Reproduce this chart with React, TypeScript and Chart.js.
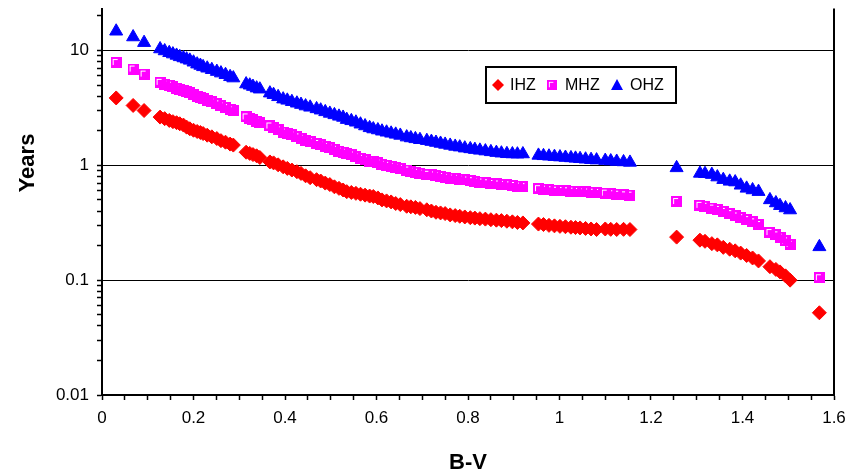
import { useEffect, useRef } from 'react';
import { Chart, registerables } from 'chart.js';

Chart.register(...registerables);

// B-V colour index of each star (shared by the three series)
const bv = [
  0.031, 0.068, 0.092, 0.127, 0.137, 0.147, 0.155, 0.163, 0.170, 0.178,
  0.185, 0.192, 0.200, 0.208, 0.215, 0.221, 0.230, 0.240, 0.251, 0.260,
  0.270, 0.280, 0.287, 0.315, 0.323, 0.330, 0.338, 0.345, 0.367, 0.375,
  0.385, 0.396, 0.405, 0.415, 0.426, 0.435, 0.445, 0.455, 0.469, 0.478,
  0.488, 0.498, 0.508, 0.518, 0.527, 0.535, 0.545, 0.555, 0.565, 0.575,
  0.585, 0.593, 0.603, 0.612, 0.622, 0.632, 0.642, 0.652, 0.666, 0.675,
  0.685, 0.695, 0.710, 0.720, 0.730, 0.740, 0.750, 0.761, 0.772, 0.782,
  0.793, 0.805, 0.815, 0.826, 0.838, 0.850, 0.862, 0.873, 0.885, 0.897,
  0.908, 0.920, 0.954, 0.965, 0.977, 0.989, 1.001, 1.013, 1.025, 1.035,
  1.045, 1.057, 1.069, 1.081, 1.100, 1.112, 1.125, 1.140, 1.154, 1.256,
  1.307, 1.318, 1.333, 1.345, 1.358, 1.372, 1.384, 1.396, 1.409, 1.422,
  1.435, 1.460, 1.473, 1.482, 1.494, 1.504, 1.568,
];

const ihz = [
  3.86, 3.32, 3.00, 2.63, 2.55, 2.46, 2.40, 2.35, 2.30, 2.24,
  2.15, 2.08, 2.02, 1.97, 1.93, 1.89, 1.83, 1.77, 1.71, 1.64,
  1.59, 1.53, 1.50, 1.30, 1.27, 1.24, 1.21, 1.17, 1.07, 1.05,
  1.01, 0.97, 0.94, 0.91, 0.88, 0.85, 0.81, 0.78, 0.75, 0.73,
  0.70, 0.68, 0.65, 0.63, 0.61, 0.59, 0.58, 0.57, 0.56, 0.55,
  0.54, 0.535, 0.52, 0.50, 0.49, 0.48, 0.465, 0.455, 0.44, 0.435,
  0.43, 0.42, 0.41, 0.40, 0.39, 0.385, 0.38, 0.37, 0.365, 0.36,
  0.355, 0.35, 0.347, 0.343, 0.34, 0.336, 0.333, 0.33, 0.326, 0.322,
  0.318, 0.315, 0.308, 0.305, 0.30, 0.297, 0.294, 0.292, 0.289, 0.287,
  0.285, 0.282, 0.279, 0.276, 0.279, 0.277, 0.276, 0.277, 0.276, 0.237,
  0.223, 0.218, 0.208, 0.203, 0.193, 0.186, 0.180, 0.172, 0.164, 0.156,
  0.147, 0.131, 0.124, 0.118, 0.109, 0.100, 0.052,
];

const mhz = [
  7.85, 6.89, 6.23, 5.28, 5.10, 4.98, 4.85, 4.69, 4.58, 4.48,
  4.38, 4.27, 4.12, 4.00, 3.90, 3.79, 3.68, 3.56, 3.43, 3.30,
  3.18, 3.05, 2.98, 2.64, 2.57, 2.50, 2.42, 2.36, 2.20, 2.13,
  2.04, 1.95, 1.90, 1.84, 1.77, 1.72, 1.66, 1.61, 1.55, 1.51,
  1.46, 1.42, 1.38, 1.33, 1.30, 1.27, 1.23, 1.19, 1.15, 1.12,
  1.09, 1.07, 1.05, 1.02, 1.00, 0.98, 0.96, 0.94, 0.91, 0.89,
  0.87, 0.855, 0.835, 0.825, 0.815, 0.80, 0.785, 0.775, 0.77, 0.76,
  0.745, 0.735, 0.725, 0.715, 0.705, 0.695, 0.688, 0.682, 0.676, 0.668,
  0.66, 0.653, 0.626, 0.62, 0.613, 0.607, 0.603, 0.60, 0.596, 0.592,
  0.589, 0.586, 0.583, 0.58, 0.572, 0.566, 0.56, 0.553, 0.55, 0.484,
  0.448, 0.44, 0.424, 0.413, 0.397, 0.38, 0.362, 0.35, 0.337, 0.322,
  0.305, 0.26, 0.248, 0.237, 0.22, 0.205, 0.105,
];

const ohz = [
  14.7, 13.1, 11.7, 10.3, 9.9, 9.55, 9.3, 9.05, 8.8, 8.6,
  8.4, 8.2, 7.9, 7.6, 7.4, 7.2, 7.0, 6.8, 6.55, 6.35,
  6.15, 5.9, 5.75, 5.1, 4.98, 4.85, 4.7, 4.6, 4.25, 4.12,
  3.95, 3.77, 3.68, 3.58, 3.47, 3.38, 3.28, 3.2, 3.1, 3.02,
  2.92, 2.83, 2.75, 2.67, 2.61, 2.5, 2.44, 2.37, 2.28, 2.2,
  2.12, 2.07, 2.03, 1.98, 1.94, 1.9, 1.86, 1.82, 1.76, 1.73,
  1.70, 1.67, 1.64, 1.61, 1.58, 1.55, 1.52, 1.49, 1.46, 1.44,
  1.41, 1.39, 1.37, 1.35, 1.33, 1.31, 1.29, 1.275, 1.26, 1.255,
  1.25, 1.255, 1.22, 1.21, 1.2, 1.19, 1.18, 1.17, 1.16, 1.15,
  1.14, 1.13, 1.12, 1.11, 1.10, 1.09, 1.08, 1.07, 1.06, 0.95,
  0.85, 0.845, 0.83, 0.79, 0.75, 0.725, 0.715, 0.67, 0.63, 0.61,
  0.59, 0.50, 0.47, 0.445, 0.425, 0.408, 0.195,
];

const seriesNames = ['IHZ', 'MHZ', 'OHZ'];
const seriesColors = ['#FF0000', '#FF00FF', '#0000FF'];
const yDecades = [0.01, 0.1, 1, 10];
const xMin = 0;
const xMax = 1.6;
const xMinorStep = 0.05;
const xLabelStep = 0.2;
const yMin = 0.01;
const yMax = 23.2;
const xTitle = 'B-V';
const yTitle = 'Years';

const FONT = '"Liberation Sans", Arial, Helvetica, sans-serif';
const SQ = 11;

function makeSquareMarker(): HTMLCanvasElement {
  const c = document.createElement('canvas');
  c.width = SQ;
  c.height = SQ;
  const g = c.getContext('2d')!;
  g.fillStyle = seriesColors[1];
  g.fillRect(0, 0, SQ, SQ);
  g.fillStyle = '#FFFFFF';
  g.fillRect(2, 2, 5, 1);
  g.fillRect(2, 2, 1, 6);
  return c;
}

export default function App() {
  const ref = useRef<HTMLCanvasElement | null>(null);

  useEffect(() => {
    if (!ref.current) return;
    const square = makeSquareMarker();
    const series = [ihz, mhz, ohz];
    const styles: any[] = ['rectRot', square, 'triangle'];
    const radii = [7, 6, 7.5];

    const frame = {
      id: 'frameAndText',
      afterDraw(chart: any) {
        const { ctx, chartArea } = chart;
        ctx.save();
        // right border
        ctx.strokeStyle = '#000';
        ctx.lineWidth = 2;
        ctx.beginPath();
        ctx.moveTo(chartArea.right, chartArea.top);
        ctx.lineTo(chartArea.right, chartArea.bottom + 1);
        ctx.stroke();

        // axis titles
        ctx.fillStyle = '#000';
        ctx.font = `bold 22px ${FONT}`;
        ctx.textAlign = 'center';
        ctx.textBaseline = 'middle';
        ctx.fillText(xTitle, (chartArea.left + chartArea.right) / 2, 463);
        ctx.save();
        ctx.translate(28, 163);
        ctx.rotate(-Math.PI / 2);
        ctx.fillText(yTitle, 0, 0);
        ctx.restore();

        // legend
        const lx = 486, ly = 67, lw = 190, lh = 36;
        ctx.fillStyle = '#FFFFFF';
        ctx.fillRect(lx, ly, lw, lh);
        ctx.strokeStyle = '#000';
        ctx.lineWidth = 2;
        ctx.strokeRect(lx, ly, lw, lh);
        const cy = ly + lh / 2;
        // diamond
        ctx.fillStyle = seriesColors[0];
        ctx.beginPath();
        ctx.moveTo(498, cy - 6);
        ctx.lineTo(504, cy);
        ctx.lineTo(498, cy + 6);
        ctx.lineTo(492, cy);
        ctx.closePath();
        ctx.fill();
        // square
        ctx.drawImage(square, 547, cy - 5, 10, 10);
        // triangle
        ctx.fillStyle = seriesColors[2];
        ctx.beginPath();
        ctx.moveTo(617, cy - 6);
        ctx.lineTo(623, cy + 5);
        ctx.lineTo(611, cy + 5);
        ctx.closePath();
        ctx.fill();
        ctx.fillStyle = '#000';
        ctx.font = `16px ${FONT}`;
        ctx.textAlign = 'left';
        ctx.textBaseline = 'middle';
        ctx.fillText(seriesNames[0], 510, cy + 1);
        ctx.fillText(seriesNames[1], 565, cy + 1);
        ctx.fillText(seriesNames[2], 630, cy + 1);
        ctx.restore();
      },
    };

    const chart = new Chart(ref.current, {
      type: 'scatter',
      data: {
        datasets: series.map((vals, s) => ({
          label: seriesNames[s],
          // drawn from the red end towards the blue end, as in the source sheet
          data: bv.map((x, i) => ({ x, y: vals[i] })).reverse(),
          pointStyle: styles[s],
          pointRadius: radii[s],
          pointHoverRadius: radii[s],
          backgroundColor: seriesColors[s],
          borderColor: seriesColors[s],
          pointBorderWidth: s === 1 ? 0 : 1,
          showLine: false,
        })),
      },
      options: {
        responsive: false,
        animation: false,
        events: [],
        layout: { padding: { left: 0, right: 22, top: 6, bottom: 0 } },
        plugins: {
          legend: { display: false },
          tooltip: { enabled: false },
          title: { display: false },
        },
        scales: {
          x: {
            type: 'linear',
            min: xMin,
            max: xMax,
            afterBuildTicks: (axis: any) => {
              const n = Math.round((xMax - xMin) / xMinorStep);
              const t = [];
              for (let i = 0; i <= n; i++) {
                t.push({ value: Math.round((xMin + i * xMinorStep) * 1000) / 1000 });
              }
              axis.ticks = t;
            },
            afterFit: (axis: any) => {
              axis.height = 80;
              axis.paddingLeft = 0;
              axis.paddingRight = 0;
              axis.paddingTop = 0;
              axis.paddingBottom = 0;
            },
            grid: {
              drawOnChartArea: false,
              drawTicks: true,
              tickLength: 5,
              tickColor: '#000',
              tickWidth: 1.5,
            },
            border: { display: true, color: '#000', width: 2 },
            ticks: {
              autoSkip: false,
              maxRotation: 0,
              minRotation: 0,
              padding: 8,
              color: '#000',
              font: { family: FONT, size: 17 },
              callback: (value: any) => {
                const r = value / xLabelStep;
                if (Math.abs(r - Math.round(r)) < 1e-6) {
                  return String(Number(Number(value).toFixed(1)));
                }
                return '';
              },
            },
          },
          y: {
            type: 'logarithmic',
            min: yMin,
            max: yMax,
            afterBuildTicks: (axis: any) => {
              const t: any[] = [];
              yDecades.forEach((d) => {
                for (let m = 1; m <= 9; m++) {
                  const v = m === 1 ? d : Number((m * d).toPrecision(6));
                  if (v <= yMax) t.push({ value: v, major: m === 1 });
                }
              });
              axis.ticks = t;
            },
            afterFit: (axis: any) => {
              axis.width = 102;
              axis.paddingLeft = 0;
              axis.paddingRight = 0;
              axis.paddingTop = 0;
              axis.paddingBottom = 0;
            },
            grid: {
              drawOnChartArea: true,
              drawTicks: true,
              tickLength: 5,
              tickColor: '#000',
              tickWidth: 1.5,
              lineWidth: 1,
              color: (c: any) => (c.tick && c.tick.major ? '#000' : 'rgba(0,0,0,0)'),
            },
            border: { display: true, color: '#000', width: 2 },
            ticks: {
              autoSkip: false,
              padding: 8,
              color: '#000',
              font: { family: FONT, size: 17 },
              callback: (value: any, index: number, ticks: any[]) =>
                ticks[index] && ticks[index].major ? String(value) : '',
            },
          },
        },
      },
      plugins: [frame],
    });

    return () => chart.destroy();
  }, []);

  return (
    <div style={{ position: 'absolute', left: 0, top: 0, width: 856, height: 475, background: '#fff' }}>
      <canvas ref={ref} width={856} height={475} style={{ width: 856, height: 475, display: 'block' }} />
    </div>
  );
}
